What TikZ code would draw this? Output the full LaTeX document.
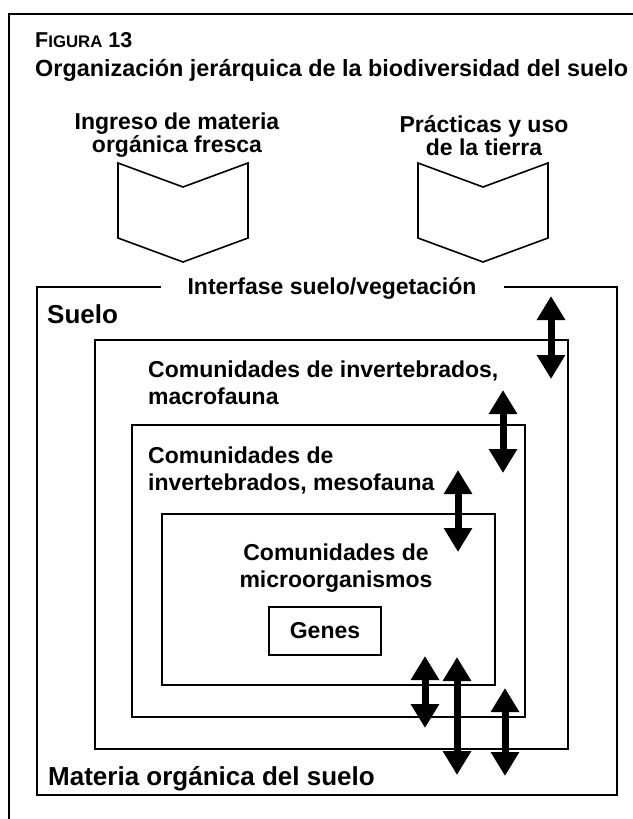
\documentclass[tikz,border=0pt]{standalone}
\usepackage{fontspec}
\setmainfont{Liberation Sans}
\usetikzlibrary{arrows.meta,positioning}

\begin{document}
\begin{tikzpicture}[x=1pt, y=-1pt,
                    every node/.style={inner sep=0pt},
                    main text/.style={font=\bfseries\fontsize{23}{27}\selectfont, align=left},
                    top text/.style={font=\bfseries\fontsize{23}{20.5}\selectfont, align=center},
                    soil text/.style={font=\bfseries\fontsize{26}{30}\selectfont},
                    box/.style={draw, line width=1.6pt},
                    inner box/.style={draw, line width=1.2pt},
                    both arrow/.style={line width=7pt,
                      {Triangle[width=27pt,length=24pt]}-{Triangle[width=27pt,length=24pt]}}]

  \useasboundingbox (0,0) rectangle (632,819);
  \draw[line width=2pt] (650,14) -| (9,840);

  \node[anchor=base west, font=\bfseries\fontsize{21.5}{24}\selectfont] (1) at (35,47)
    {F{\fontsize{16.8}{20}\selectfont IGURA} 13};
  \node[anchor=base west, font=\bfseries\fontsize{23.4}{27}\selectfont] (2) at (35,76)
    {Organización jerárquica de la biodiversidad del suelo};

  \node[top text, anchor=base] (3) at (177,152) {Ingreso de materia\\orgánica fresca};
  \node[top text, anchor=base, font=\bfseries\fontsize{23}{23}\selectfont] (4) at (484,155)
    {Prácticas y uso\\de la tierra};

  \draw[box] (118,163) -- (183,187) -- (248,163) -- (248,238) -- (183,262) -- (118,238) -- cycle;
  \draw[box] (418,163) -- (483,187) -- (548,163) -- (548,238) -- (483,262) -- (418,238) -- cycle;

  \draw[box] (161,287) -| (37,795) -| (617,287) -- (504,287);
  \node[main text, anchor=base] (5) at (332,294) {Interfase suelo/vegetación};
  \node[soil text, anchor=base west] (6) at (47,323) {Suelo};
  \node[soil text, anchor=base west] (7) at (48,785) {Materia orgánica del suelo};

  \node[box, minimum width=473pt, minimum height=409pt] (8) at (331.5,544.5) {};
  \node[main text, anchor=base west] (9) at (148,404) {Comunidades de invertebrados,\\macrofauna};

  \node[box, minimum width=393pt, minimum height=292pt] (10) at (328.5,571) {};
  \node[main text, anchor=base west] (11) at (148,490) {Comunidades de\\invertebrados, mesofauna};

  \node[inner box, minimum width=333pt, minimum height=171pt] (12) at (328.5,599.5) {};
  \node[main text, align=center, anchor=base] (13) at (336,587) {Comunidades de\\microorganismos};

  \node[inner box, main text, minimum width=112pt, minimum height=48pt] (14) at (325,631) {Genes};

  \coordinate (a1) at (551,296);  \coordinate (b1) at (551,379);
  \coordinate (a2) at (503,390);  \coordinate (b2) at (503,473);
  \coordinate (a3) at (458,470);  \coordinate (b3) at (458,552);
  \coordinate (a4) at (425,656);  \coordinate (b4) at (425,728);
  \coordinate (a5) at (457,657);  \coordinate (b5) at (457,775);
  \coordinate (a6) at (505,688);  \coordinate (b6) at (505,776);

  \path[both arrow]
    (a1) edge (b1)
    (a2) edge (b2)
    (a3) edge (b3)
    (a4) edge (b4)
    (a5) edge (b5)
    (a6) edge (b6);
\end{tikzpicture}
\end{document}
